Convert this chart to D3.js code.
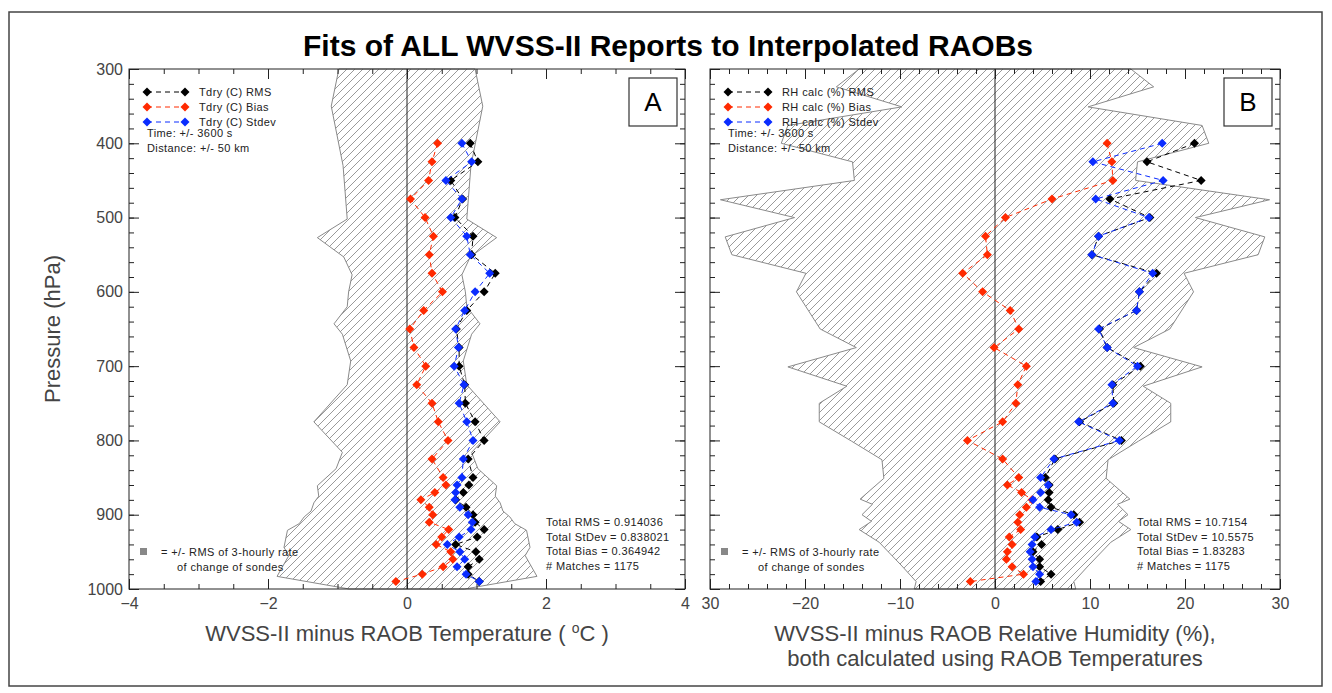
<!DOCTYPE html>
<html>
<head>
<meta charset="utf-8">
<script src="https://cdn.jsdelivr.net/npm/d3@7"></script>
<style>
  body { margin: 0; background: #fff; }
  svg { display: block; }
  .tick text { font-family: "Liberation Sans", Arial, sans-serif; font-size: 16px; fill: #444; }
  .small { font-family: "Liberation Sans", Arial, sans-serif; font-size: 11px; fill: #222; letter-spacing: 0.4px; }
  .alabel { font-family: "Liberation Sans", Arial, sans-serif; font-size: 22px; fill: #444; }
</style>
</head>
<body>
<div id="chart"></div>
<script>
// pressure levels of the plotted points (hPa)
var levels = [400, 425, 450, 475, 500, 525, 550, 575, 600, 625, 650, 675, 700, 725, 750, 775, 800, 825,
  850, 860, 870, 880, 890, 900, 910, 920, 930, 940, 950, 960, 970, 980, 990];

// panel A: Tdry (C)
var tdryRms = [0.91, 1.02, 0.63, 0.80, 0.69, 0.95, 0.93, 1.27, 1.11, 0.86, 0.71, 0.75, 0.75, 0.83, 0.84, 0.98, 1.11, 0.88,
  0.95, 0.89, 0.81, 0.70, 0.85, 0.95, 0.98, 1.11, 1.01, 0.70, 0.99, 1.04, 0.88, 0.88, 1.04];
var tdryBias = [0.44, 0.36, 0.31, 0.05, 0.26, 0.38, 0.32, 0.36, 0.51, 0.24, 0.04, 0.10, 0.27, 0.14, 0.36, 0.45, 0.59, 0.36,
  0.52, 0.56, 0.40, 0.20, 0.32, 0.37, 0.32, 0.60, 0.50, 0.42, 0.63, 0.66, 0.52, 0.22, -0.16];
var tdryStdev = [0.79, 0.93, 0.56, 0.79, 0.63, 0.86, 0.91, 1.19, 0.98, 0.83, 0.70, 0.74, 0.68, 0.82, 0.75, 0.86, 0.95, 0.81,
  0.79, 0.72, 0.70, 0.69, 0.76, 0.88, 0.94, 0.92, 0.75, 0.58, 0.76, 0.83, 0.72, 0.85, 1.04];

// panel B: RH calc (%)
var rhRms = [21.0, 16.0, 21.7, 12.1, 16.3, 10.9, 10.2, 17.0, 15.2, 14.9, 11.0, 11.8, 15.3, 12.4, 12.5, 8.9, 13.3, 6.3,
  5.3, 5.7, 5.7, 5.6, 5.9, 8.3, 8.9, 6.6, 4.4, 4.9, 4.0, 4.7, 4.7, 5.9, 4.8];
var rhBias = [11.8, 12.3, 12.4, 6.0, 1.1, -1.0, -0.8, -3.4, -1.3, 1.6, 2.5, -0.1, 3.3, 2.4, 2.2, 0.8, -2.9, 0.8,
  2.5, 1.3, 2.8, 3.9, 3.3, 2.6, 2.4, 2.7, 1.5, 1.8, 1.3, 1.2, 1.8, 3.0, -2.6];
var rhStdev = [17.6, 10.3, 17.7, 10.6, 16.2, 10.9, 10.2, 16.6, 15.2, 14.9, 10.9, 11.8, 15.0, 12.3, 12.4, 8.8, 13.1, 6.2,
  4.8, 5.6, 4.8, 4.0, 4.7, 8.0, 8.6, 5.9, 4.2, 3.9, 3.7, 3.9, 4.0, 4.7, 4.3];

// +/- RMS of 3-hourly rate of change of sondes (half width of shaded band)
var bandAP = [300, 350, 430, 502, 527, 553, 577, 600, 620, 643, 657, 693, 725, 775, 816, 838, 861, 875, 884, 895, 903, 912, 921, 944, 955, 983, 1000];
var bandAW = [0.98, 1.09, 0.92, 0.86, 1.29, 0.91, 0.79, 0.84, 0.86, 1.05, 0.93, 0.81, 0.86, 1.34, 0.93, 1.02, 1.29, 1.27, 1.34, 1.38, 1.48, 1.55, 1.72, 1.77, 1.70, 1.87, 0.83];
var bandBP = [300, 324, 351, 376, 400, 425, 450, 476, 500, 526, 550, 575, 600, 650, 675, 701, 727, 750, 775, 801, 826, 851, 879, 886, 900, 909, 920, 937, 969, 990, 1000];
var bandBW = [14.3, 16.7, 9.8, 21.8, 22.5, 15.0, 14.8, 28.9, 21.1, 28.4, 27.7, 19.9, 20.9, 18.4, 14.6, 21.8, 15.6, 18.5, 18.5, 15.1, 11.9, 11.7, 14.2, 12.9, 14.0, 13.0, 14.3, 12.2, 9.8, 8.3, 8.5];

// ticks
var pTicks = [300, 400, 500, 600, 700, 800, 900, 1000];
var xTicksA = [-4, -2, 0, 2, 4];
var xLabelsA = ["\u22124", "\u22122", "0", "2", "4"];
var xTicksB = [-30, -20, -10, 0, 10, 20, 30];
var xLabelsB = ["30", "\u221220", "\u221210", "0", "10", "20", "30"];

var statsA = ["Total RMS = 0.914036", "Total StDev = 0.838021", "Total Bias = 0.364942", "# Matches = 1175"];
var statsB = ["Total RMS = 10.7154", "Total StDev = 10.5575", "Total Bias = 1.83283", "# Matches = 1175"];

var svgWidth = 1332, svgHeight = 693;
var svg = d3.select("#chart").append("svg")
  .attr("width", svgWidth)
  .attr("height", svgHeight);

// hatch pattern
svg.append("defs").append("pattern")
  .attr("id", "hatch")
  .attr("patternUnits", "userSpaceOnUse")
  .attr("width", 8).attr("height", 8)
  .append("path")
  .attr("d", "M-1,1 l2,-2 M0,8 l8,-8 M7,9 l2,-2")
  .attr("stroke", "#808080")
  .attr("stroke-width", 0.8);

// outer frame
svg.append("rect")
  .attr("x", 9).attr("y", 12).attr("width", 1313).attr("height", 674)
  .attr("fill", "none").attr("stroke", "#444").attr("stroke-width", 1.5);

svg.append("text")
  .attr("x", 668).attr("y", 56)
  .attr("text-anchor", "middle")
  .style("font-family", "'Liberation Sans', Arial, sans-serif")
  .style("font-size", "30px").style("font-weight", "bold")
  .text("Fits of ALL WVSS-II Reports to Interpolated RAOBs");

var y = d3.scaleLinear().domain([300, 1000]).range([69, 589]);

var colors = { rms: "#000000", bias: "#ff2a00", stdev: "#0a2cff" };

function diamond(g, cx, cy, col) {
  g.append("path")
    .attr("d", `M${cx},${cy - 4.5}L${cx + 4.5},${cy}L${cx},${cy + 4.5}L${cx - 4.5},${cy}Z`)
    .attr("fill", col);
}

function drawPanel(opt) {
  var x = opt.x;
  var x0 = x.range()[0], x1 = x.range()[1];
  var y0 = y.range()[0], y1 = y.range()[1];
  var g = svg.append("g");

  // shaded band
  var band = opt.bandP.map((p, i) => ({ p: p, w: opt.bandW[i] }));
  g.append("path")
    .datum(band)
    .attr("d", d3.area().y(d => y(d.p)).x0(d => x(-d.w)).x1(d => x(d.w)))
    .attr("fill", "url(#hatch)")
    .attr("stroke", "#8a8a8a")
    .attr("stroke-width", 1);

  // zero line
  g.append("line")
    .attr("x1", x(0)).attr("x2", x(0)).attr("y1", y0).attr("y2", y1)
    .attr("stroke", "#222").attr("stroke-width", 1);

  // series
  var series = [
    { v: opt.rms, c: colors.rms },
    { v: opt.bias, c: colors.bias },
    { v: opt.stdev, c: colors.stdev }
  ];
  series.forEach(function(s) {
    var pts = levels.map((p, i) => [x(s.v[i]), y(p)]);
    g.append("path")
      .attr("d", d3.line()(pts))
      .attr("fill", "none")
      .attr("stroke", s.c)
      .attr("stroke-width", 1)
      .attr("stroke-dasharray", "5,4");
    pts.forEach(pt => diamond(g, pt[0], pt[1], s.c));
  });

  // axes with inward ticks on all four sides
  var minorX = opt.minorX, minorY = d3.range(300, 1001, 20);
  function axis(a, tv, size, fmt) {
    return a.tickValues(tv).tickSize(size).tickSizeOuter(0).tickFormat(fmt);
  }
  g.append("g").attr("transform", `translate(0,${y1})`)
    .call(axis(d3.axisBottom(x), opt.xTicks, -10, (d, i) => opt.xLabels[i]).tickPadding(9));
  g.append("g").attr("transform", `translate(0,${y1})`)
    .call(axis(d3.axisBottom(x), minorX, -5, ""));
  g.append("g").attr("transform", `translate(0,${y0})`)
    .call(axis(d3.axisTop(x), opt.xTicks, -10, ""));
  g.append("g").attr("transform", `translate(0,${y0})`)
    .call(axis(d3.axisTop(x), minorX, -5, ""));
  g.append("g").attr("transform", `translate(${x0},0)`)
    .call(axis(d3.axisLeft(y), pTicks, -10, opt.yLabels ? d3.format("d") : "").tickPadding(6));
  g.append("g").attr("transform", `translate(${x0},0)`)
    .call(axis(d3.axisLeft(y), minorY, -5, ""));
  g.append("g").attr("transform", `translate(${x1},0)`)
    .call(axis(d3.axisRight(y), pTicks, -10, ""));
  g.append("g").attr("transform", `translate(${x1},0)`)
    .call(axis(d3.axisRight(y), minorY, -5, ""));
  g.selectAll(".domain").remove();
  g.selectAll(".tick line").attr("stroke", "#222");

  g.append("rect")
    .attr("x", x0).attr("y", y0).attr("width", x1 - x0).attr("height", y1 - y0)
    .attr("fill", "none").attr("stroke", "#222").attr("stroke-width", 1);

  // legend
  var lx = x0 + 18;
  var names = ["RMS", "Bias", "Stdev"];
  series.forEach(function(s, i) {
    var ly = 92 + i * 15;
    g.append("line").attr("x1", lx).attr("x2", lx + opt.legW).attr("y1", ly).attr("y2", ly)
      .attr("stroke", s.c).attr("stroke-dasharray", "5,4");
    diamond(g, lx, ly, s.c);
    diamond(g, lx + opt.legW, ly, s.c);
    g.append("text").attr("class", "small").attr("x", lx + opt.legW + 14).attr("y", ly + 4)
      .text(opt.legName + " " + names[i]);
  });
  g.append("text").attr("class", "small").attr("x", lx).attr("y", 137).text("Time: +/- 3600 s");
  g.append("text").attr("class", "small").attr("x", lx).attr("y", 152).text("Distance: +/- 50 km");

  // stats
  opt.stats.forEach(function(t, i) {
    g.append("text").attr("class", "small").attr("x", opt.statsX).attr("y", 526 + i * 14.7).text(t);
  });

  // band legend
  g.append("rect").attr("x", x0 + 11).attr("y", 548).attr("width", 7).attr("height", 7).attr("fill", "#888");
  g.append("text").attr("class", "small").attr("x", x0 + 32).attr("y", 556).text("= +/- RMS of 3-hourly rate");
  g.append("text").attr("class", "small").attr("x", x0 + 48).attr("y", 571).text("of change of sondes");

  // panel letter box
  g.append("rect").attr("x", x1 - 56).attr("y", 78).attr("width", 48).attr("height", 48)
    .attr("fill", "#fff").attr("stroke", "#333").attr("stroke-width", 1.2);
  g.append("text").attr("x", x1 - 32).attr("y", 111).attr("text-anchor", "middle")
    .style("font-family", "'Liberation Sans', Arial, sans-serif").style("font-size", "26px")
    .text(opt.letter);

  // axis title
  opt.xTitle.forEach(function(t, i) {
    var tx = g.append("text").attr("class", "alabel").attr("x", x(0)).attr("y", 641 + i * 25)
      .attr("text-anchor", "middle");
    if (typeof t === "object") {
      tx.append("tspan").text(t.a);
      tx.append("tspan").attr("baseline-shift", "super").style("font-size", "14px").text("o");
      tx.append("tspan").text(t.b);
    } else {
      tx.text(t);
    }
  });
}

drawPanel({
  x: d3.scaleLinear().domain([-4, 4]).range([129, 685]),
  xTicks: xTicksA, xLabels: xLabelsA, minorX: d3.range(-4, 4.01, 0.5),
  yLabels: true,
  rms: tdryRms, bias: tdryBias, stdev: tdryStdev,
  bandP: bandAP, bandW: bandAW,
  legName: "Tdry (C)", legW: 38,
  stats: statsA, statsX: 546,
  letter: "A",
  xTitle: [{ a: "WVSS-II minus RAOB Temperature ( ", b: "C )" }]
});

drawPanel({
  x: d3.scaleLinear().domain([-30, 30]).range([710, 1280]),
  xTicks: xTicksB, xLabels: xLabelsB, minorX: d3.range(-30, 30.1, 2),
  yLabels: false,
  rms: rhRms, bias: rhBias, stdev: rhStdev,
  bandP: bandBP, bandW: bandBW,
  legName: "RH calc (%)", legW: 40,
  stats: statsB, statsX: 1137,
  letter: "B",
  xTitle: ["WVSS-II minus RAOB Relative Humidity (%),", "both calculated using RAOB Temperatures"]
});

svg.append("text")
  .attr("class", "alabel")
  .attr("transform", "translate(60,329) rotate(-90)")
  .attr("text-anchor", "middle")
  .text("Pressure (hPa)");
</script>
</body>
</html>
